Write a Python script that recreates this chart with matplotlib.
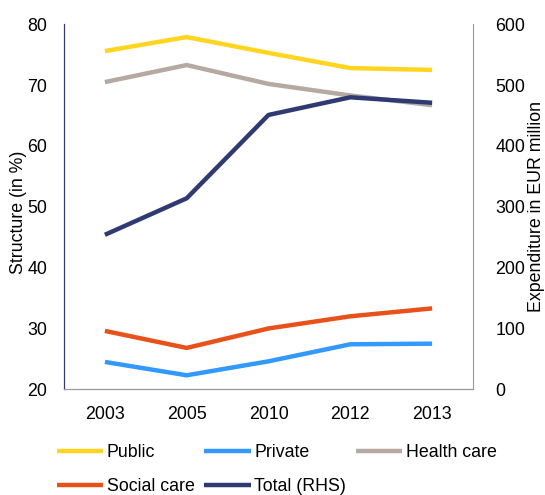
import matplotlib
matplotlib.use("Agg")
import matplotlib.pyplot as plt

plt.rcParams['font.family'] = ['Liberation Sans', 'DejaVu Sans']

years = ["2003", "2005", "2010", "2012", "2013"]
public = [75.6, 77.9, 75.3, 72.8, 72.5]
private = [24.5, 22.3, 24.6, 27.4, 27.5]
health_care = [70.5, 73.3, 70.2, 68.3, 66.7]
social_care = [29.6, 26.8, 30.0, 32.0, 33.3]
total_rhs = [254, 314, 451, 480, 471]

c_public = "#FFD520"
c_private = "#3399FF"
c_health = "#B5A9A1"
c_social = "#E9511A"
c_total = "#2F3A73"

W, H = 545, 495
fig = plt.figure(figsize=(W/100, H/100), dpi=100)
L, R, T, B = 64, 473, 24.3, 389.3
ax = fig.add_axes([L/W, 1-B/H, (R-L)/W, (B-T)/H])
ax2 = ax.twinx()

x = list(range(len(years)))
lw = 3.2
ax.plot(x, public, color=c_public, lw=lw, label="Public", solid_capstyle='butt')
ax.plot(x, private, color=c_private, lw=lw, label="Private", solid_capstyle='butt')
ax.plot(x, health_care, color=c_health, lw=lw, label="Health care", solid_capstyle='butt')
ax.plot(x, social_care, color=c_social, lw=lw, label="Social care", solid_capstyle='butt')
ax2.plot(x, total_rhs, color=c_total, lw=lw, label="Total (RHS)", solid_capstyle='butt')

ax.set_xlim(-0.5, len(years) - 0.5)
ax.set_ylim(20, 80)
ax2.set_ylim(0, 600)
ax.set_xticks(x)
ax.set_xticklabels(years)
ax.set_yticks(range(20, 81, 10))
ax2.set_yticks(range(0, 601, 100))

fs = 12.8
ax.tick_params(axis='y', length=0, labelsize=fs, pad=12)
ax2.tick_params(axis='y', length=0, labelsize=fs, pad=16)
ax.tick_params(axis='x', length=0, labelsize=fs, pad=12)

for a in (ax, ax2):
    a.spines['top'].set_visible(False)
ax2.spines['left'].set_color(c_total)
ax2.spines['right'].set_color("#999999")
ax2.spines['bottom'].set_color("#999999")
ax.spines['left'].set_color(c_total)
ax.spines['right'].set_visible(False)
ax.spines['bottom'].set_color("#999999")

ax.set_ylabel("Structure (in %)", fontsize=fs)
ax2.set_ylabel("Expenditure in EUR million", fontsize=fs, rotation=90)
ax.yaxis.set_label_coords(-(L-27)/(R-L), 0.485)
ax2.yaxis.set_label_coords((528-L)/(R-L), 0.5)

h1, l1 = ax.get_legend_handles_labels()
h2, l2 = ax2.get_legend_handles_labels()
handles = h1 + h2
labels = l1 + l2
order = [0, 3, 1, 4, 2]
fig.legend([handles[i] for i in order], [labels[i] for i in order],
           ncol=3, loc='upper left', bbox_to_anchor=(57/W, 1-444/H),
           frameon=False, fontsize=fs, handlelength=2.6, handletextpad=0.2,
           columnspacing=0.55, labelspacing=0.95, borderaxespad=0,
           borderpad=0)

fig.savefig("out.png", dpi=100)
